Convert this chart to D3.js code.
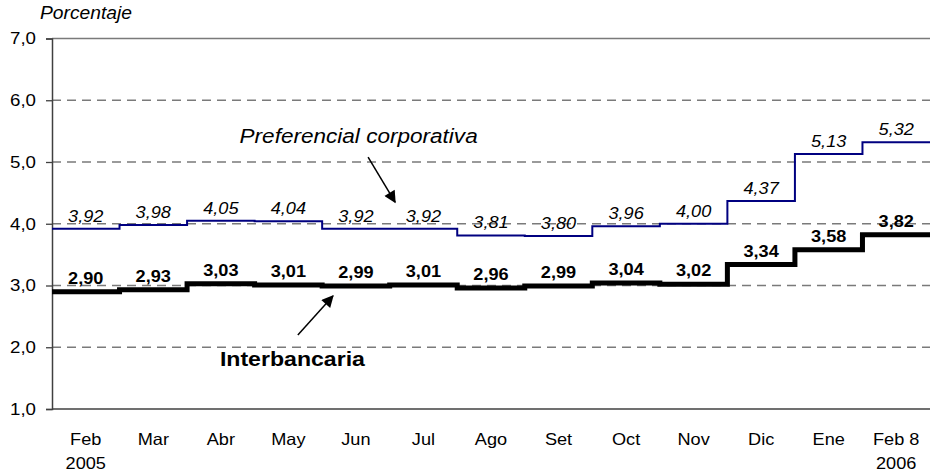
<!DOCTYPE html>
<html>
<head>
<meta charset="utf-8">
<script src="https://cdn.jsdelivr.net/npm/d3@7"></script>
<style>
  body { margin: 0; background: #fff; }
  svg { display: block; font-family: "Liberation Sans", Arial, sans-serif; }
</style>
</head>
<body>
<div id="vis"></div>
<script>
// monthly averages, Feb 2005 - Feb 8 2006
const months = ["Feb", "Mar", "Abr", "May", "Jun", "Jul", "Ago", "Set", "Oct", "Nov", "Dic", "Ene", "Feb 8"];
const years = ["2005", "", "", "", "", "", "", "", "", "", "", "", "2006"];
const preferencial = [3.92, 3.98, 4.05, 4.04, 3.92, 3.92, 3.81, 3.80, 3.96, 4.00, 4.37, 5.13, 5.32];
const interbancaria = [2.90, 2.93, 3.03, 3.01, 2.99, 3.01, 2.96, 2.99, 3.04, 3.02, 3.34, 3.58, 3.82];
const yTicks = [1, 2, 3, 4, 5, 6, 7];

const width = 930, height = 474;
const STRETCH = 1.1; // text in the original is drawn a bit wide

const fmt = (v, d) => v.toFixed(d).replace(".", ",");

const svg = d3.select("#vis")
  .append("svg")
  .attr("width", width)
  .attr("height", height);

const x = d3.scaleLinear().domain([0, months.length]).range([52, 930]);
const y = d3.scaleLinear().domain([1, 7]).range([409, 38.5]);

// stretch text horizontally to match the original look
function stretch(sel) {
  sel.each(function() {
    const len = this.getComputedTextLength();
    d3.select(this).attr("textLength", len * STRETCH).attr("lengthAdjust", "spacingAndGlyphs");
  });
}

// gridlines
svg.append("g")
  .selectAll("line")
  .data(yTicks.filter(d => d > 1 && d < 7))
  .join("line")
  .attr("x1", x(0)).attr("x2", x(months.length))
  .attr("y1", d => y(d)).attr("y2", d => y(d))
  .attr("stroke", "#7a7a7a")
  .attr("stroke-width", 1.3)
  .attr("stroke-dasharray", "9,6");

svg.append("line")
  .attr("x1", x(0)).attr("x2", x(months.length))
  .attr("y1", y(7)).attr("y2", y(7))
  .attr("stroke", "#7a7a7a")
  .attr("stroke-width", 1.3);

// y axis
const yAxis = svg.append("g")
  .attr("transform", `translate(${x(0)},0)`)
  .call(d3.axisLeft(y).tickValues(yTicks).tickSize(6).tickPadding(10).tickFormat(d => fmt(d, 1)));
yAxis.select(".domain").attr("stroke", "#404040").attr("stroke-width", 1.5);
yAxis.selectAll(".tick line").attr("stroke", "#404040").attr("stroke-width", 1.3);
yAxis.selectAll(".tick text")
  .attr("font-size", 17)
  .attr("fill", "#000")
  .attr("font-family", "Liberation Sans, Arial, sans-serif")
  .call(stretch);

// x axis baseline
svg.append("line")
  .attr("x1", x(0)).attr("x2", x(months.length))
  .attr("y1", y(1)).attr("y2", y(1))
  .attr("stroke", "#404040")
  .attr("stroke-width", 1.5);

// month labels
const xLab = svg.append("g").attr("font-size", 16.5).attr("fill", "#000").attr("text-anchor", "middle");
xLab.selectAll("text.m")
  .data(months)
  .join("text")
  .attr("class", "m")
  .attr("x", (d, i) => x(i + 0.5))
  .attr("y", 445)
  .text(d => d)
  .call(stretch);
xLab.selectAll("text.yr")
  .data(years)
  .join("text")
  .attr("class", "yr")
  .attr("x", (d, i) => x(i + 0.5))
  .attr("y", 469)
  .text(d => d)
  .filter(d => d !== "")
  .call(stretch);

// "Porcentaje"
svg.append("text")
  .attr("x", 40)
  .attr("y", 19)
  .attr("font-size", 17.5)
  .attr("font-style", "italic")
  .text("Porcentaje")
  .call(stretch);

// step lines
const stepLine = d3.line()
  .x(d => x(d[0]))
  .y(d => y(d[1]))
  .curve(d3.curveStepAfter);

const withEnd = vals => vals.map((v, i) => [i, v]).concat([[vals.length, vals[vals.length - 1]]]);

svg.append("path")
  .datum(withEnd(preferencial))
  .attr("d", stepLine)
  .attr("fill", "none")
  .attr("stroke", "#000080")
  .attr("stroke-width", 2);

svg.append("path")
  .datum(withEnd(interbancaria))
  .attr("d", stepLine)
  .attr("fill", "none")
  .attr("stroke", "#000")
  .attr("stroke-width", 5);

// value labels
svg.append("g")
  .attr("font-size", 16.5)
  .attr("font-style", "italic")
  .attr("text-anchor", "middle")
  .selectAll("text")
  .data(preferencial)
  .join("text")
  .attr("x", (d, i) => x(i + 0.5))
  .attr("y", d => y(d) - 7)
  .text(d => fmt(d, 2))
  .call(stretch);

svg.append("g")
  .attr("font-size", 16.5)
  .attr("font-weight", "bold")
  .attr("text-anchor", "middle")
  .selectAll("text")
  .data(interbancaria)
  .join("text")
  .attr("x", (d, i) => x(i + 0.5))
  .attr("y", d => y(d) - 8)
  .text(d => fmt(d, 2))
  .call(stretch);

// annotations
svg.append("defs").append("marker")
  .attr("id", "arrow")
  .attr("viewBox", "0 0 10 10")
  .attr("refX", 9).attr("refY", 5)
  .attr("markerWidth", 14).attr("markerHeight", 12)
  .attr("markerUnits", "userSpaceOnUse")
  .attr("orient", "auto")
  .append("path")
  .attr("d", "M0,0 L10,5 L0,10 z")
  .attr("fill", "#000");

svg.append("text")
  .attr("x", x(4.54))
  .attr("y", y(5.31))
  .attr("text-anchor", "middle")
  .attr("font-size", 20.5)
  .attr("font-style", "italic")
  .text("Preferencial corporativa")
  .call(stretch);

svg.append("line")
  .attr("x1", x(4.68)).attr("y1", y(5.08))
  .attr("x2", x(5.08)).attr("y2", y(4.35))
  .attr("stroke", "#000")
  .attr("stroke-width", 1.5)
  .attr("marker-end", "url(#arrow)");

svg.append("text")
  .attr("x", x(3.56))
  .attr("y", y(1.70))
  .attr("text-anchor", "middle")
  .attr("font-size", 21)
  .attr("font-weight", "bold")
  .text("Interbancaria")
  .call(stretch);

svg.append("line")
  .attr("x1", x(3.64)).attr("y1", y(2.2))
  .attr("x2", x(4.16)).attr("y2", y(2.83))
  .attr("stroke", "#000")
  .attr("stroke-width", 1.5)
  .attr("marker-end", "url(#arrow)");
</script>
</body>
</html>
